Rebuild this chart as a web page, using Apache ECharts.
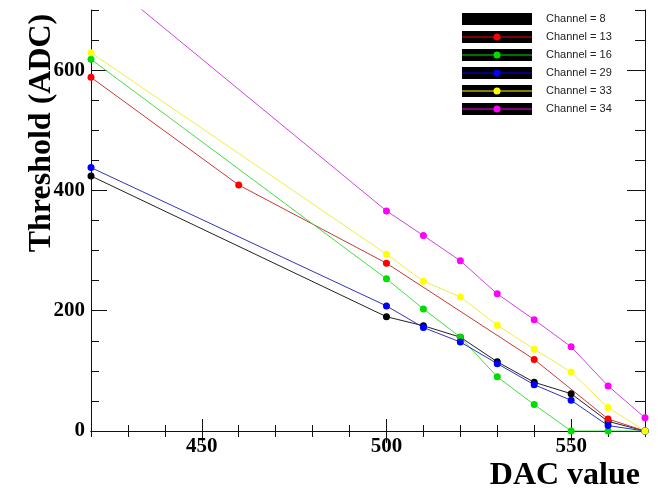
<!DOCTYPE html>
<html>
<head>
<meta charset="utf-8">
<script src="https://cdn.jsdelivr.net/npm/echarts@6/dist/echarts.min.js"></script>
<style>
  html, body { margin: 0; padding: 0; background: #fff; }
  #chart { width: 658px; height: 492px; }
</style>
</head>
<body>
<div id="chart"></div>
<script>
// DAC settings scanned
const dacSteps = [420, 500, 510, 520, 530, 540, 550, 560, 570]
const dacCh13 = [420, 460, 500, 540, 560, 570]

// threshold (ADC) per channel
const ch8 = [424, 190, 175, 156, 115, 81, 62, 16, 0]
const ch13 = [588, 409, 279, 119, 20, 0]
const ch16 = [618, 253, 203, 156, 90, 44, 0, 0, 0]
const ch29 = [438, 208, 172, 148, 112, 77, 51, 9, 0]
const ch33 = [629, 294, 249, 223, 176, 136, 98, 39, 0]
const ch34 = [770, 366, 325, 283, 228, 185, 140, 75, 22]

const channelNames = ['Channel = 8', 'Channel = 13', 'Channel = 16', 'Channel = 29', 'Channel = 33', 'Channel = 34']
const markerColors = ['#000000', '#ff0000', '#00dd00', '#0000ff', '#ffff00', '#ff00ff']
const lineColors = ['#222222', '#c83838', '#44dd44', '#3333bb', '#eeee44', '#cc44dd']

const xMajorTicks = [450, 500, 550]
const yMajorTicks = [0, 200, 400, 600]

const serif = '"Liberation Serif", "Times New Roman", serif'
const axisColor = '#111'

// legend marker: thin line with a small dot, corner specks keep the 70x12 box
const legendIcon = 'path://M0,0h0.01v0.01h-0.01Z M69.99,11.99h0.01v0.01h-0.01Z M0,5.5H70V6.5H0Z M38.5,6A3.5,3.5 0 1,1 31.5,6A3.5,3.5 0 1,1 38.5,6Z'

function pairs(xs, ys) {
  return xs.map((x, i) => [x, ys[i]])
}

const seriesData = [
  pairs(dacSteps, ch8),
  pairs(dacCh13, ch13),
  pairs(dacSteps, ch16),
  pairs(dacSteps, ch29),
  pairs(dacSteps, ch33),
  pairs(dacSteps, ch34)
]

// ROOT-style frame: minor ticks on one axis, major ticks on an overlay axis
function xFrame(position, showLabel) {
  const base = {
    type: 'value', position: position, min: 420, max: 570,
    splitLine: { show: false }
  }
  return [
    Object.assign({}, base, {
      interval: 10,
      axisLine: { show: true, lineStyle: { color: axisColor, width: 1 } },
      axisTick: { show: true, inside: true, length: 6, lineStyle: { color: axisColor } },
      axisLabel: {
        show: showLabel,
        margin: 5,
        fontFamily: serif,
        fontWeight: 'bold',
        fontSize: 21,
        color: '#000',
        formatter: v => (v % 50 === 0 ? String(v) : '')
      }
    }),
    Object.assign({}, base, {
      axisLine: { show: false },
      axisTick: { show: true, inside: true, length: 12, customValues: xMajorTicks, lineStyle: { color: axisColor } },
      axisLabel: { show: false }
    })
  ]
}

function yFrame(position, showLabel, minorLen, majorLen) {
  const base = {
    type: 'value', position: position, min: 0, max: 700,
    splitLine: { show: false }
  }
  return [
    Object.assign({}, base, {
      interval: 50,
      axisLine: { show: true, lineStyle: { color: axisColor, width: 1 } },
      axisTick: { show: true, inside: true, length: minorLen, lineStyle: { color: axisColor } },
      axisLabel: {
        show: showLabel,
        margin: 6,
        fontFamily: serif,
        fontWeight: 'bold',
        fontSize: 21,
        color: '#000',
        formatter: v => (v % 200 === 0 ? String(v) : '')
      }
    }),
    Object.assign({}, base, {
      axisLine: { show: false },
      axisTick: { show: true, inside: true, length: majorLen, customValues: yMajorTicks, lineStyle: { color: axisColor } },
      axisLabel: { show: false }
    })
  ]
}

const legendBoxes = channelNames.map((n, i) => ({
  type: 'rect',
  left: 462,
  top: 13 + i * 18,
  z: -1,
  shape: { width: 70, height: 12 },
  style: { fill: '#000' }
}))

const chart = echarts.init(document.getElementById('chart'))
chart.setOption({
  backgroundColor: '#fff',
  animation: false,
  grid: { left: 91, right: 13, top: 10, bottom: 61 },
  xAxis: xFrame('bottom', true).concat(xFrame('top', false)),
  yAxis: yFrame('left', true, 8, 16).concat(yFrame('right', false, 10, 18)),
  legend: {
    orient: 'vertical',
    left: 462,
    top: 13,
    padding: 0,
    z: 10,
    icon: legendIcon,
    itemWidth: 70,
    itemHeight: 12,
    itemGap: 6,
    data: channelNames,
    textStyle: {
      fontFamily: '"Liberation Sans", Arial, sans-serif',
      fontSize: 11,
      lineHeight: 12,
      color: '#222',
      padding: [0, 0, 0, 9]
    }
  },
  graphic: legendBoxes.concat([
    {
      type: 'text',
      x: 42,
      y: 133,
      rotation: Math.PI / 2,
      style: {
        text: 'Threshold (ADC)',
        fontFamily: serif,
        fontWeight: 'bold',
        fontSize: 32,
        fill: '#000',
        textAlign: 'center',
        textVerticalAlign: 'middle'
      }
    },
    {
      type: 'text',
      x: 640,
      y: 476,
      style: {
        text: 'DAC value',
        fontFamily: serif,
        fontWeight: 'bold',
        fontSize: 32,
        fill: '#000',
        textAlign: 'right',
        textVerticalAlign: 'middle'
      }
    }
  ]),
  series: channelNames.map((name, i) => ({
    name: name,
    type: 'line',
    xAxisIndex: 0,
    yAxisIndex: 0,
    symbol: 'circle',
    symbolSize: 7,
    clip: true,
    lineStyle: { color: lineColors[i], width: 1 },
    itemStyle: { color: markerColors[i] },
    data: seriesData[i]
  }))
})
</script>
</body>
</html>
